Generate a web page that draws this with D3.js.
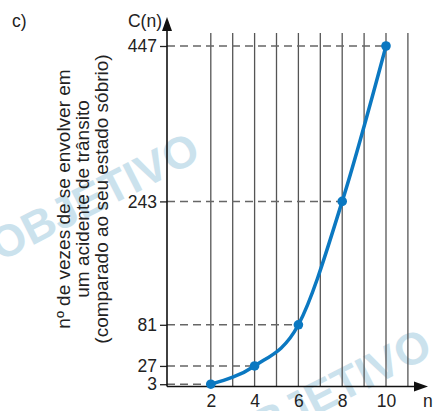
<!DOCTYPE html>
<html>
<head>
<meta charset="utf-8">
<title>C(n)</title>
<script src="https://cdn.jsdelivr.net/npm/d3@7"></script>
<style>
body { margin: 0; background: #fff; }
svg text { font-family: "Liberation Sans", Arial, sans-serif; fill: #222; }
</style>
</head>
<body>
<script>
// data
var nValues = [2, 4, 6, 8, 10];
var cValues = [3, 27, 81, 243, 447];
var yTicks = [3, 27, 81, 243, 447];
var xTicks = [2, 4, 6, 8, 10];
var gridN = [2, 3, 4, 5, 6, 7, 8, 9, 10, 11];
var titleLines = ["nº de vezes de se envolver em", "um acidente de trânsito", "(comparado ao seu estado sóbrio)"];

var width = 435, height = 411;
var blue = "#0b78c1";

var svg = d3.select("body").append("svg")
    .attr("width", width)
    .attr("height", height);

var x = d3.scaleLinear().domain([0, 10]).range([167, 386]);
var y = d3.scaleLinear().domain([0, 447]).range([386.5, 46]);

// watermark (faint logo text)
var wm = svg.append("g");
[[0, 262], [232, 458]].forEach(function(p) {
  wm.append("text")
      .attr("transform", "translate(" + p[0] + "," + p[1] + ") rotate(-27)")
      .attr("font-size", 45)
      .attr("font-weight", "bold")
      .style("fill", "#cbe2ed")
      .text("OBJETIVO");
});

// vertical grid
svg.append("g").selectAll("line")
    .data(gridN)
  .enter().append("line")
    .attr("x1", function(d) { return x(d); })
    .attr("x2", function(d) { return x(d); })
    .attr("y1", 33)
    .attr("y2", y(0))
    .attr("stroke", "#555")
    .attr("stroke-width", 1.3);

// dashed guides
svg.append("g").selectAll("line")
    .data(nValues)
  .enter().append("line")
    .attr("x1", x(0))
    .attr("x2", function(d) { return x(d); })
    .attr("y1", function(d, i) { return y(cValues[i]); })
    .attr("y2", function(d, i) { return y(cValues[i]); })
    .attr("stroke", "#666")
    .attr("stroke-width", 1.5)
    .attr("stroke-dasharray", "8,5");

// y axis ticks
var yAxis = svg.append("g")
    .attr("transform", "translate(" + x(0) + ",0)")
    .call(d3.axisLeft(y).tickValues(yTicks).tickSize(7).tickPadding(3));
yAxis.select(".domain").remove();
yAxis.selectAll("line").attr("stroke", "#222").attr("stroke-width", 1.3);
yAxis.selectAll("text").attr("font-size", 17.5).attr("font-family", "Liberation Sans, Arial, sans-serif").style("fill", "#222");

// x axis labels
var xAxis = svg.append("g")
    .attr("transform", "translate(0," + y(0) + ")")
    .call(d3.axisBottom(x).tickValues(xTicks).tickSize(0).tickPadding(8));
xAxis.select(".domain").remove();
xAxis.selectAll("text").attr("font-size", 17.5).attr("font-family", "Liberation Sans, Arial, sans-serif").style("fill", "#222");

// axis lines with arrows
svg.append("line")
    .attr("x1", x(0)).attr("x2", x(0))
    .attr("y1", y(0)).attr("y2", 26)
    .attr("stroke", "#111").attr("stroke-width", 1.6);
svg.append("path")
    .attr("d", "M" + x(0) + ",17 L" + (x(0) - 5) + ",31 L" + (x(0) + 5) + ",31 Z")
    .attr("fill", "#111");
svg.append("line")
    .attr("x1", x(0)).attr("x2", 418)
    .attr("y1", y(0)).attr("y2", y(0))
    .attr("stroke", "#111").attr("stroke-width", 1.6);
svg.append("path")
    .attr("d", "M428," + y(0) + " L414," + (y(0) - 5) + " L414," + (y(0) + 5) + " Z")
    .attr("fill", "#111");

// curve
var pts = nValues.map(function(d, i) { return [d, cValues[i]]; });
svg.append("path")
    .datum(pts)
    .attr("fill", "none")
    .attr("stroke", blue)
    .attr("stroke-width", 3.5)
    .attr("d", d3.line()
        .x(function(d) { return x(d[0]); })
        .y(function(d) { return y(d[1]); })
        .curve(d3.curveMonotoneX));

svg.append("g").selectAll("circle")
    .data(pts)
  .enter().append("circle")
    .attr("cx", function(d) { return x(d[0]); })
    .attr("cy", function(d) { return y(d[1]); })
    .attr("r", 4.8)
    .attr("fill", blue);

// labels
svg.append("text").attr("x", 12).attr("y", 27).attr("font-size", 17.5).text("c)");
svg.append("text").attr("x", 162).attr("y", 27).attr("font-size", 17.5)
    .attr("text-anchor", "end").text("C(n)");
svg.append("text").attr("x", 423).attr("y", 407).attr("font-size", 17.5).text("n");

svg.append("g").selectAll("text")
    .data(titleLines)
  .enter().append("text")
    .attr("transform", function(d, i) { return "translate(" + (70 + i * 19) + ",199) rotate(-90)"; })
    .attr("text-anchor", "middle")
    .attr("font-size", 19)
    .text(function(d) { return d; });
</script>
</body>
</html>
